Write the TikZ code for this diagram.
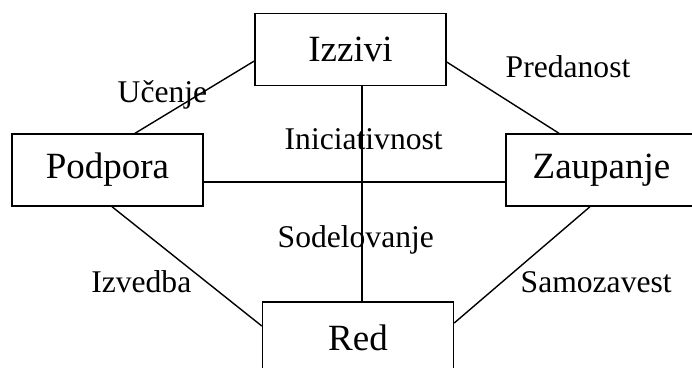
\documentclass[tikz,border=0pt]{standalone}
\usepackage{fontspec}
\setmainfont{Liberation Serif}
\begin{document}
\begin{tikzpicture}[x=1pt, y=-1pt, line width=1.4pt,
	box/.style = {draw, rectangle, inner sep=0pt, minimum width=191pt, minimum height=72pt, font=\fontsize{37}{40}\selectfont},
	lbl/.style = {inner sep=0pt, font=\fontsize{31.6}{34}\selectfont}]
			\useasboundingbox (0,0) rectangle (692,367);
			\clip (0,0) rectangle (692,367);

			\node[box] (I) at (350.5,49.5) {Izzivi};
			\node[box] (P) at (107.5,170) {Podpora};
			\node[box] (Z) at (601.5,170) {Zaupanje};
			\node[box] (R) at (358,338) {Red};

			\draw ([xshift=27.5pt]P.north) -- ([yshift=-11.5pt]I.west);
			\draw ([yshift=-12.5pt]I.east) -- ([xshift=-42.5pt]Z.north);
			\draw ([xshift=4.5pt]P.south) -- ([yshift=12pt]R.west);
			\draw ([yshift=15pt]R.east) -- ([xshift=-11.5pt]Z.south);
			\draw ([yshift=-12pt]P.east) -- ([yshift=-12pt]Z.west);
			\draw ([xshift=11.5pt]I.south) -- ([xshift=4pt]R.north);

			\node[lbl, anchor=base west] (uc) at (117,102) {Učenje};
			\node[lbl, anchor=base west] (pr) at (505,77) {Predanost};
			\node[lbl, anchor=base west] (in) at (284,149) {Iniciativnost};
			\node[lbl, anchor=base west] (so) at (277,247) {Sodelovanje};
			\node[lbl, anchor=base east] (iz) at (192,292) {Izvedba};
			\node[lbl, anchor=base west] (sa) at (520,292) {Samozavest};
		\end{tikzpicture}
\end{document}
